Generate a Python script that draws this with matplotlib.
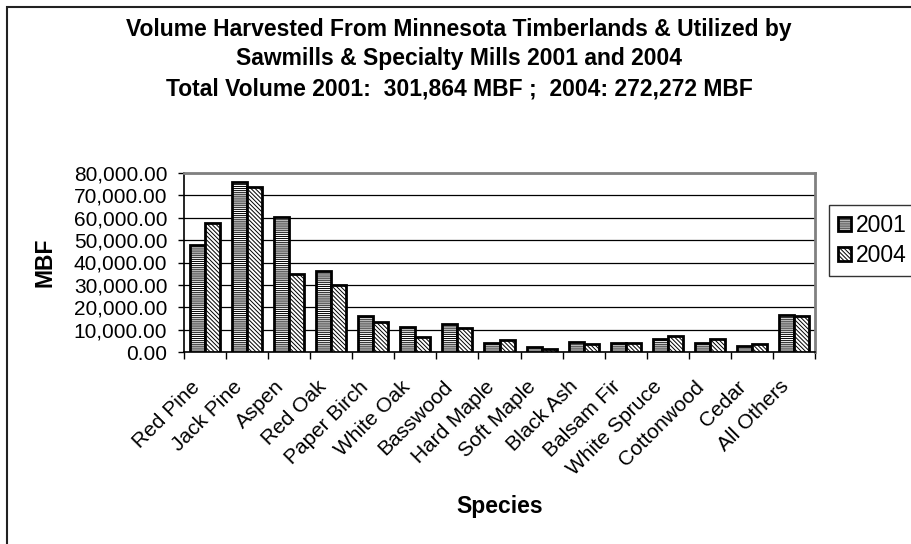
import numpy as np
import matplotlib
matplotlib.use('Agg')
from matplotlib import pyplot as plt
from matplotlib.patches import Rectangle
from matplotlib.transforms import ScaledTranslation

plt.rcParams['font.family'] = ['Liberation Sans', 'DejaVu Sans']
plt.rcParams['hatch.linewidth'] = 0.7

species = ['Red Pine', 'Jack Pine', 'Aspen', 'Red Oak', 'Paper Birch', 'White Oak',
           'Basswood', 'Hard Maple', 'Soft Maple', 'Black Ash', 'Balsam Fir',
           'White Spruce', 'Cottonwood', 'Cedar', 'All Others']
vol_2001 = [48000, 76000, 60300, 36000, 16200, 11300, 12400, 3900, 2400, 4300,
            4200, 5800, 4200, 2700, 16500]
vol_2004 = [57600, 73900, 34800, 29900, 13500, 6800, 10900, 5400, 1300, 3600,
            3900, 7300, 5800, 3600, 16200]
yticks = np.arange(0, 80001, 10000)

W, H = 911, 544
fig = plt.figure(figsize=(W/100, H/100), dpi=100)

# chart area frame (only left and top edges visible in the original)
fig.patches.append(Rectangle((7/W, -0.1), 1.2, 1 - 7/H + 0.1, transform=fig.transFigure,
                             fill=False, edgecolor='#222222', linewidth=1.5))

ax = fig.add_axes([184/W, 1 - 352/H, (815 - 184)/W, (352 - 173)/H])

x = np.arange(len(species))
bw = 0.357
ax.bar(x - bw/2, vol_2001, bw, facecolor='white', edgecolor='black', hatch='--------',
       linewidth=2, label='2001', zorder=3)
ax.bar(x + bw/2, vol_2004, bw, facecolor='white', edgecolor='black', hatch='\\\\\\\\\\\\\\\\',
       linewidth=2, label='2004', zorder=3)

ax.set_xlim(-0.5, len(species) - 0.5)
ax.set_ylim(0, 80000)
ax.set_yticks(yticks)
ax.set_yticklabels(['{:,.2f}'.format(v) for v in yticks], fontsize=15)
ax.yaxis.grid(True, color='black', linewidth=0.9, zorder=0)

# ticks between categories, labels at centers
ax.set_xticks(np.arange(len(species) + 1) - 0.5)
ax.set_xticklabels([])
ax.set_xticks(x, minor=True)
ax.set_xticklabels(species, minor=True, rotation=45, ha='right', rotation_mode='anchor',
                   fontsize=15)
ax.tick_params(axis='x', which='major', length=5, width=1, direction='out')
ax.tick_params(axis='x', which='minor', length=0, pad=18)
ax.tick_params(axis='y', length=4, width=1, direction='out', pad=8)
shift = ScaledTranslation(-15/100, 0, fig.dpi_scale_trans)
for lab in ax.get_xticklabels(minor=True):
    lab.set_transform(lab.get_transform() + shift)

for s in ['top', 'right']:
    ax.spines[s].set_color('#808080')
    ax.spines[s].set_linewidth(2)
for s in ['left', 'bottom']:
    ax.spines[s].set_color('black')
    ax.spines[s].set_linewidth(1.2)

fig.text(45/W, 1 - 262/H, 'MBF', fontsize=16.5, fontweight='bold', rotation=90,
         ha='center', va='center')
fig.text(500/W, 1 - 507/H, 'Species', fontsize=16.5, fontweight='bold', ha='center', va='center')

title = ('Volume Harvested From Minnesota Timberlands & Utilized by\n'
         'Sawmills & Specialty Mills 2001 and 2004\n'
         'Total Volume 2001:  301,864 MBF ;  2004: 272,272 MBF')
fig.text(459/W, 1 - 59/H, title, fontsize=16.5, fontweight='bold', ha='center', va='center',
         linespacing=1.38)

leg = ax.legend(loc='upper left', bbox_to_anchor=(829/W, 1 - 205/H), bbox_transform=fig.transFigure,
                fontsize=16.5, frameon=True, fancybox=False, edgecolor='black',
                handlelength=0.57, handleheight=0.57, handletextpad=0.2, borderpad=0.4,
                labelspacing=0.3, borderaxespad=0)
leg.get_frame().set_linewidth(1)

fig.savefig('out.png', dpi=100)
